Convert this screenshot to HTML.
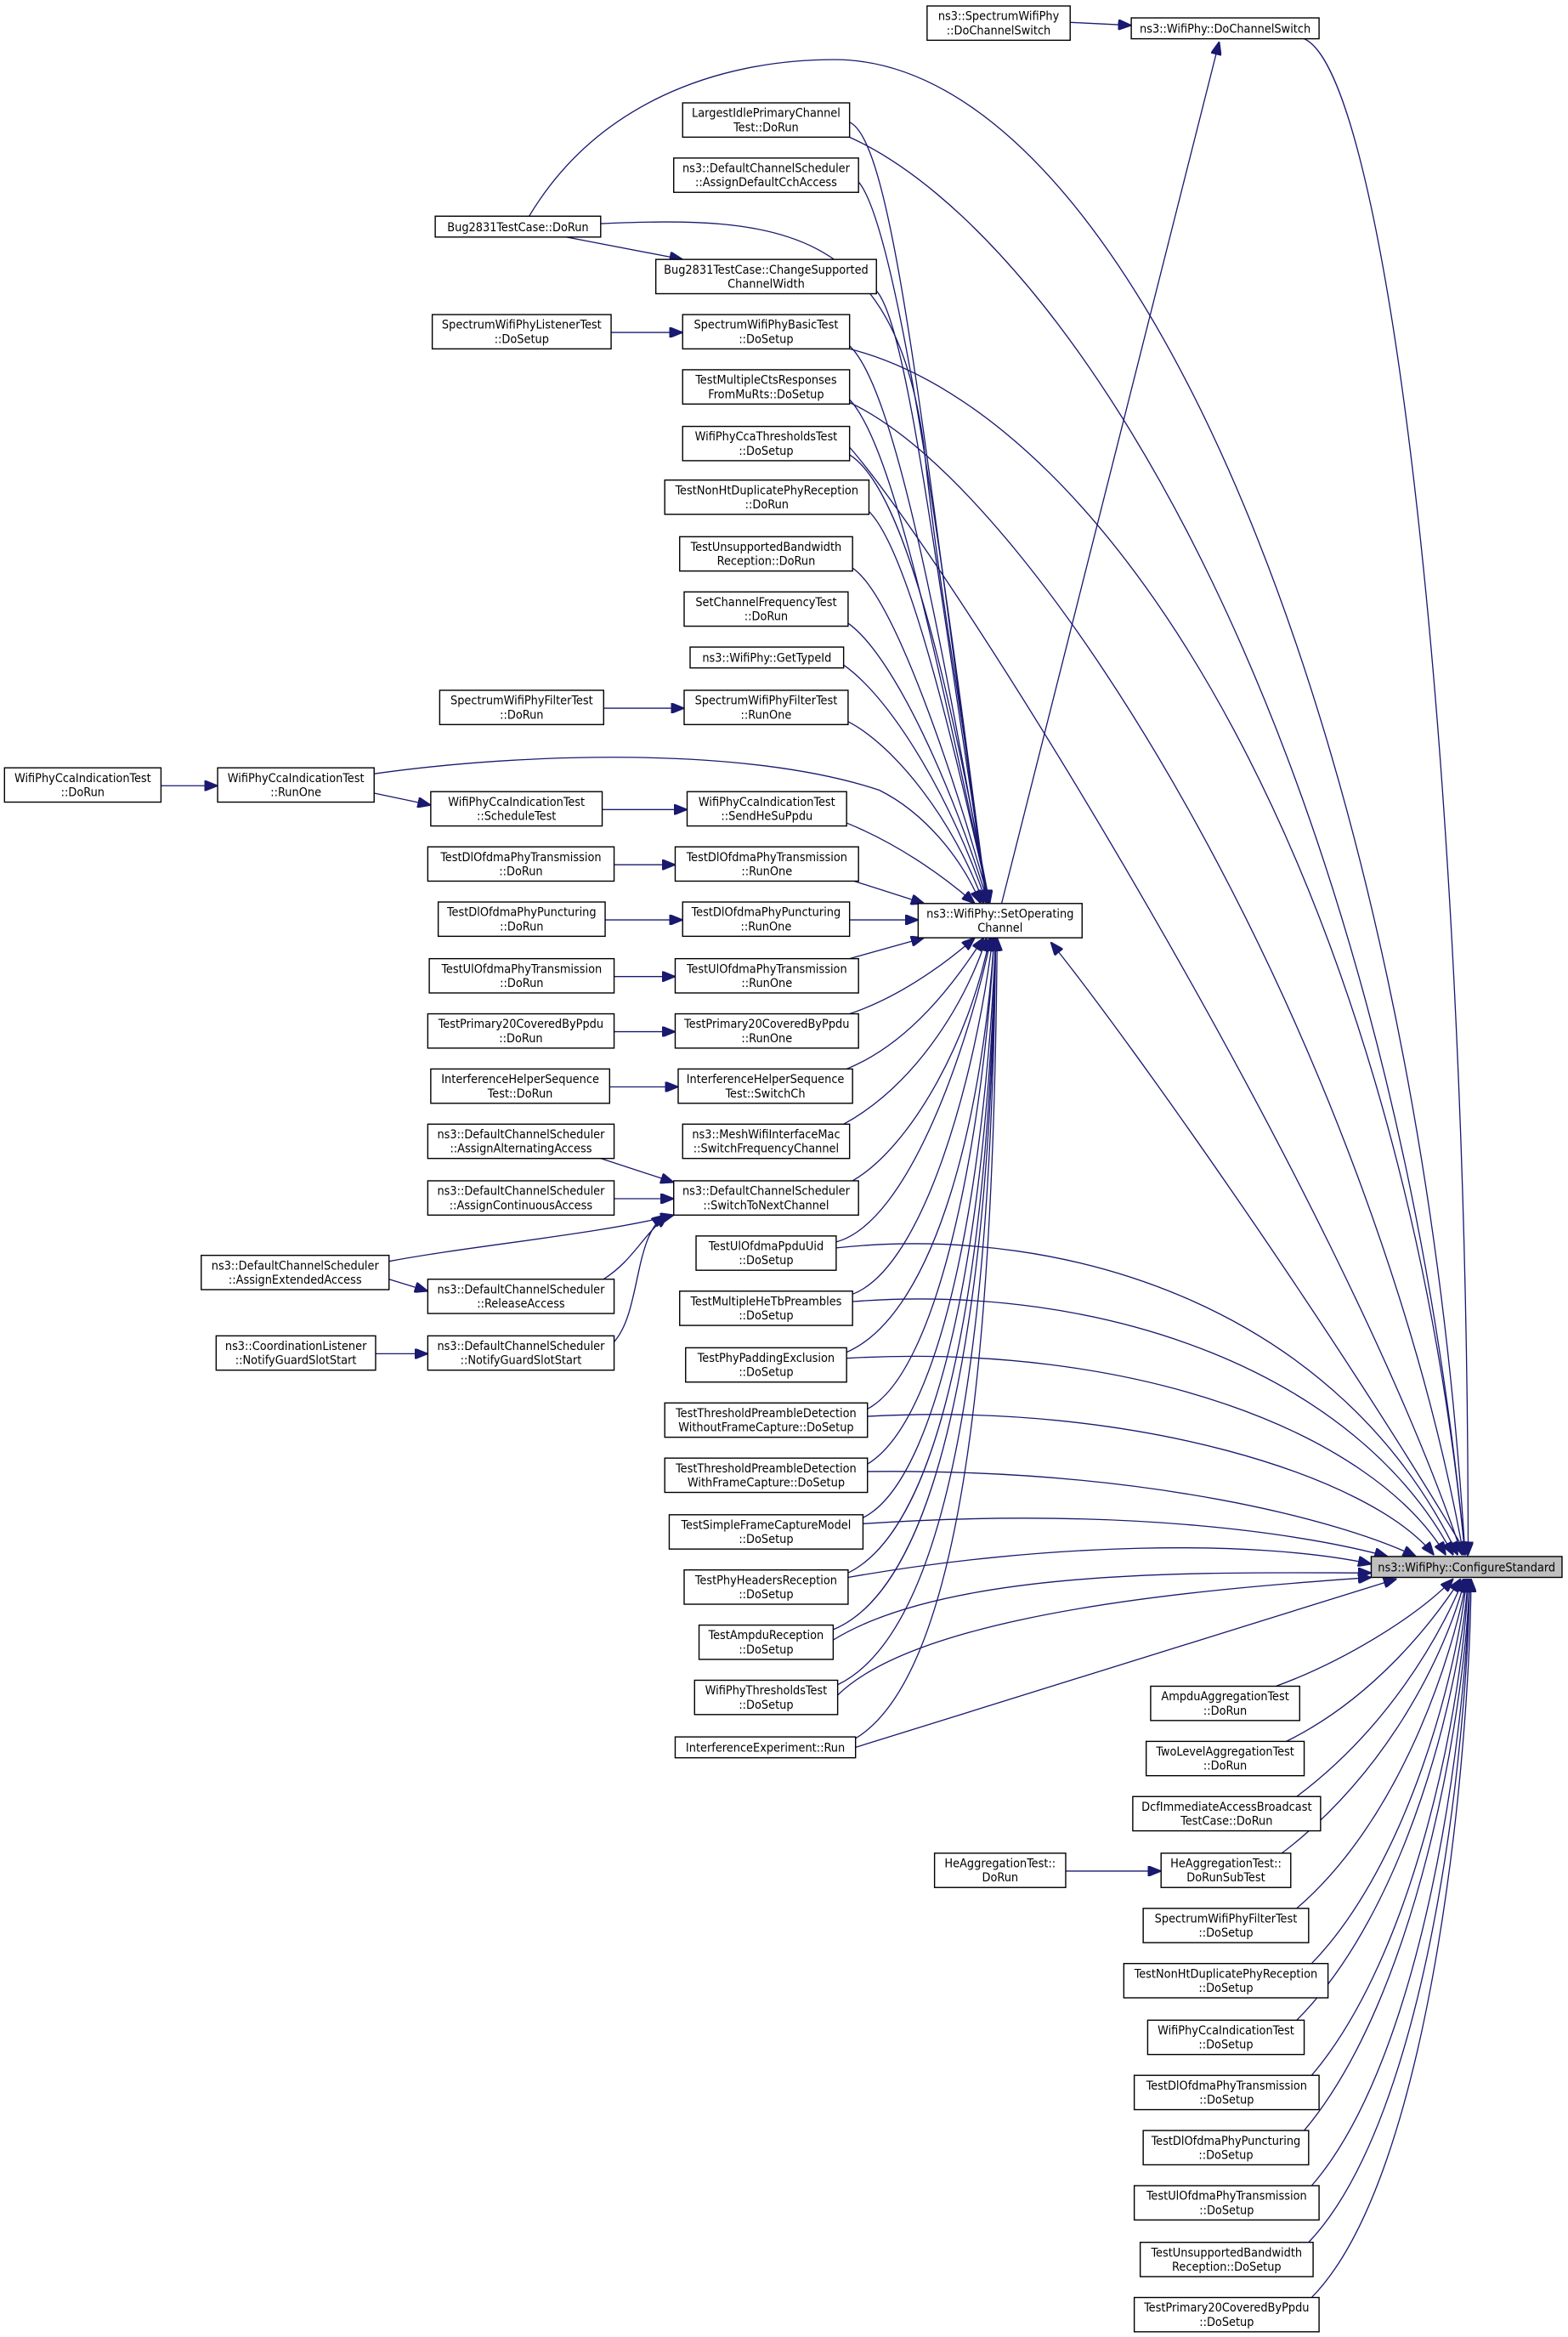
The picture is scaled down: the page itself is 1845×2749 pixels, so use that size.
<!DOCTYPE html>
<html><head><meta charset="utf-8"><style>
html,body{margin:0;padding:0;background:#fff;}
svg{display:block;}
text{font-family:"DejaVu Sans Condensed","DejaVu Sans","Liberation Sans",sans-serif;font-stretch:condensed;font-size:8.2px;fill:#000;text-anchor:middle;}
rect{fill:#fff;stroke:#000;stroke-width:0.8;}
path{fill:none;stroke:#191970;stroke-width:0.75;}
</style></head><body>
<svg width="1845" height="2749" viewBox="0 0 1052 1567.5" xmlns="http://www.w3.org/2000/svg">
<defs>
<marker id="a" viewBox="0 0 10 8" refX="10" refY="4" markerWidth="9" markerHeight="7" markerUnits="userSpaceOnUse" orient="auto">
<polygon points="0,0 10,4 0,8" fill="#191970" stroke="#191970"/></marker>
</defs>
<g>
<!-- edges to SetOperatingChannel -->
<path marker-end="url(#a)" d="M570,82 C600,95 620,300 662,606"/>
<path marker-end="url(#a)" d="M576,122 C600,150 630,350 662,606"/>
<path marker-end="url(#a)" d="M403,150 C520,145 600,150 620,300 C630,400 650,500 662,606"/>
<path marker-end="url(#a)" d="M588,195 C610,220 630,400 663,606"/>
<path marker-end="url(#a)" d="M570,232 C600,260 630,420 663,606"/>
<path marker-end="url(#a)" d="M570,268 C600,300 630,450 664,606"/>
<path marker-end="url(#a)" d="M570,305 C610,330 640,480 664,606"/>
<path marker-end="url(#a)" d="M583,343 C610,370 640,500 664,606"/>
<path marker-end="url(#a)" d="M572,381 C600,400 640,520 664,606"/>
<path marker-end="url(#a)" d="M569,418 C600,440 640,530 663,606"/>
<path marker-end="url(#a)" d="M566,446 C600,470 640,540 662,606"/>
<path marker-end="url(#a)" d="M569,484 C600,500 640,550 660,606"/>
<path marker-end="url(#a)" d="M251,519 C350,505 500,500 590,530 C620,545 645,575 658,606"/>
<path marker-end="url(#a)" d="M568,552 C600,565 630,585 654,606"/>
<path marker-end="url(#a)" d="M570,590 L620,606"/>
<path marker-end="url(#a)" d="M570,617 L616,617"/>
<path marker-end="url(#a)" d="M570,643 L620,629"/>
<path marker-end="url(#a)" d="M570,680 C600,670 630,650 654,629"/>
<path marker-end="url(#a)" d="M568,717 C610,700 640,660 660,629"/>
<path marker-end="url(#a)" d="M566,754 C610,730 645,680 662,629"/>
<path marker-end="url(#a)" d="M572,792 C610,770 650,700 664,629"/>
<path marker-end="url(#a)" d="M561,833 C610,820 650,700 665,629"/>
<path marker-end="url(#a)" d="M572,868 C620,850 655,720 666,629"/>
<path marker-end="url(#a)" d="M568,907 C630,880 660,740 667,629"/>
<path marker-end="url(#a)" d="M582,945 C630,920 660,760 667,629"/>
<path marker-end="url(#a)" d="M582,982 C635,950 662,780 668,629"/>
<path marker-end="url(#a)" d="M579,1018 C635,990 664,800 668,629"/>
<path marker-end="url(#a)" d="M569,1055 C640,1020 664,820 668,629"/>
<path marker-end="url(#a)" d="M559,1093 C640,1060 665,840 668,629"/>
<path marker-end="url(#a)" d="M562,1130 C645,1090 666,860 668,629"/>
<path marker-end="url(#a)" d="M574,1166 C650,1120 667,880 669,629"/>
<path marker-end="url(#a)" d="M985,1044 C900,900 760,700 705,632"/>
<path marker-end="url(#a)" d="M672,606 L818,28"/>
<!-- edges to ConfigureStandard -->
<path marker-end="url(#a)" d="M875,26 C930,50 985,500 985,1043"/>
<path marker-end="url(#a)" d="M355,145 C400,70 480,40 560,40 C760,40 950,500 983,1043"/>
<path marker-end="url(#a)" d="M570,92 C720,160 930,500 983,1043"/>
<path marker-end="url(#a)" d="M570,234 C750,280 940,600 983,1043"/>
<path marker-end="url(#a)" d="M570,270 C700,330 920,700 982,1043"/>
<path marker-end="url(#a)" d="M570,300 C640,380 900,800 981,1043"/>
<path marker-end="url(#a)" d="M561,837 C720,820 900,880 978,1043"/>
<path marker-end="url(#a)" d="M572,873 C740,860 910,920 975,1043"/>
<path marker-end="url(#a)" d="M568,911 C760,900 920,960 970,1043"/>
<path marker-end="url(#a)" d="M582,950 C760,940 920,990 962,1043"/>
<path marker-end="url(#a)" d="M582,987 C770,985 900,1020 950,1044"/>
<path marker-end="url(#a)" d="M579,1022 C760,1010 880,1030 931,1044"/>
<path marker-end="url(#a)" d="M569,1058 C700,1035 840,1032 920,1049"/>
<path marker-end="url(#a)" d="M559,1100 C640,1050 820,1055 920,1055"/>
<path marker-end="url(#a)" d="M562,1137 C620,1080 820,1065 920,1058"/>
<path marker-end="url(#a)" d="M574,1172 L937,1059"/>
<path marker-end="url(#a)" d="M856,1131 C900,1115 950,1085 975,1059"/>
<path marker-end="url(#a)" d="M863,1168 C920,1140 960,1090 980,1059"/>
<path marker-end="url(#a)" d="M870,1205 C930,1160 965,1100 982,1059"/>
<path marker-end="url(#a)" d="M860,1243 C930,1190 970,1110 983,1059"/>
<path marker-end="url(#a)" d="M870,1280 C940,1220 975,1110 984,1059"/>
<path marker-end="url(#a)" d="M880,1317 C945,1250 978,1120 984,1059"/>
<path marker-end="url(#a)" d="M870,1355 C945,1280 980,1130 985,1059"/>
<path marker-end="url(#a)" d="M880,1392 C950,1310 982,1140 985,1059"/>
<path marker-end="url(#a)" d="M875,1429 C950,1340 983,1150 986,1059"/>
<path marker-end="url(#a)" d="M880,1466 C955,1380 984,1160 986,1059"/>
<path marker-end="url(#a)" d="M878,1504 C958,1420 985,1170 986,1059"/>
<path marker-end="url(#a)" d="M880,1541 C960,1460 986,1180 987,1059"/>
<!-- local edges -->
<path marker-end="url(#a)" d="M718,15 L759,17"/>
<path marker-end="url(#a)" d="M380,159 L458,174"/>
<path marker-end="url(#a)" d="M410,223 L458,223"/>
<path marker-end="url(#a)" d="M405,475 L459,475"/>
<path marker-end="url(#a)" d="M108,527 L146,527"/>
<path marker-end="url(#a)" d="M251,532 L289,540"/>
<path marker-end="url(#a)" d="M404,543 L461,543"/>
<path marker-end="url(#a)" d="M412,580 L453,580"/>
<path marker-end="url(#a)" d="M406,617 L458,617"/>
<path marker-end="url(#a)" d="M412,655 L453,655"/>
<path marker-end="url(#a)" d="M412,692 L453,692"/>
<path marker-end="url(#a)" d="M409,729 L455,729"/>
<path marker-end="url(#a)" d="M403,777 L452,793"/>
<path marker-end="url(#a)" d="M412,804 L452,804"/>
<path marker-end="url(#a)" d="M261,846 C320,835 400,828 452,815"/>
<path marker-end="url(#a)" d="M261,858 L287,866"/>
<path marker-end="url(#a)" d="M405,858 C425,845 430,830 448,815"/>
<path marker-end="url(#a)" d="M412,900 C430,880 425,830 446,815"/>
<path marker-end="url(#a)" d="M252,908 L287,908"/>
<path marker-end="url(#a)" d="M715,1255 L779,1255"/>
</g>
<g>
<rect x="622" y="4" width="96" height="23"/><text x="670" y="13.5">ns3::SpectrumWifiPhy</text><text x="670" y="23">::DoChannelSwitch</text>
<rect x="759" y="12" width="126" height="14"/><text x="822" y="22">ns3::WifiPhy::DoChannelSwitch</text>
<rect x="458" y="69" width="112" height="23"/><text x="514" y="78.5">LargestIdlePrimaryChannel</text><text x="514" y="88">Test::DoRun</text>
<rect x="452" y="106" width="124" height="23"/><text x="514" y="115.5">ns3::DefaultChannelScheduler</text><text x="514" y="125">::AssignDefaultCchAccess</text>
<rect x="292" y="145" width="111" height="14"/><text x="347.5" y="155">Bug2831TestCase::DoRun</text>
<rect x="440" y="174" width="148" height="23"/><text x="514" y="183.5">Bug2831TestCase::ChangeSupported</text><text x="514" y="193">ChannelWidth</text>
<rect x="290" y="211" width="120" height="23"/><text x="350" y="220.5">SpectrumWifiPhyListenerTest</text><text x="350" y="230">::DoSetup</text>
<rect x="458" y="211" width="112" height="23"/><text x="514" y="220.5">SpectrumWifiPhyBasicTest</text><text x="514" y="230">::DoSetup</text>
<rect x="458" y="248" width="112" height="23"/><text x="514" y="257.5">TestMultipleCtsResponses</text><text x="514" y="267">FromMuRts::DoSetup</text>
<rect x="458" y="286" width="112" height="23"/><text x="514" y="295.5">WifiPhyCcaThresholdsTest</text><text x="514" y="305">::DoSetup</text>
<rect x="446" y="322" width="137" height="23"/><text x="514.5" y="331.5">TestNonHtDuplicatePhyReception</text><text x="514.5" y="341">::DoRun</text>
<rect x="456" y="360" width="116" height="23"/><text x="514" y="369.5">TestUnsupportedBandwidth</text><text x="514" y="379">Reception::DoRun</text>
<rect x="459" y="397" width="110" height="23"/><text x="514" y="406.5">SetChannelFrequencyTest</text><text x="514" y="416">::DoRun</text>
<rect x="463" y="434" width="103" height="14"/><text x="514.5" y="444">ns3::WifiPhy::GetTypeId</text>
<rect x="295" y="463" width="110" height="23"/><text x="350" y="472.5">SpectrumWifiPhyFilterTest</text><text x="350" y="482">::DoRun</text>
<rect x="459" y="463" width="110" height="23"/><text x="514" y="472.5">SpectrumWifiPhyFilterTest</text><text x="514" y="482">::RunOne</text>
<rect x="3" y="515" width="105" height="23"/><text x="55.5" y="524.5">WifiPhyCcaIndicationTest</text><text x="55.5" y="534">::DoRun</text>
<rect x="146" y="515" width="105" height="23"/><text x="198.5" y="524.5">WifiPhyCcaIndicationTest</text><text x="198.5" y="534">::RunOne</text>
<rect x="289" y="531" width="115" height="23"/><text x="346.5" y="540.5">WifiPhyCcaIndicationTest</text><text x="346.5" y="550">::ScheduleTest</text>
<rect x="461" y="531" width="107" height="23"/><text x="514.5" y="540.5">WifiPhyCcaIndicationTest</text><text x="514.5" y="550">::SendHeSuPpdu</text>
<rect x="287" y="568" width="125" height="23"/><text x="349.5" y="577.5">TestDlOfdmaPhyTransmission</text><text x="349.5" y="587">::DoRun</text>
<rect x="453" y="568" width="123" height="23"/><text x="514.5" y="577.5">TestDlOfdmaPhyTransmission</text><text x="514.5" y="587">::RunOne</text>
<rect x="294" y="605" width="112" height="23"/><text x="350" y="614.5">TestDlOfdmaPhyPuncturing</text><text x="350" y="624">::DoRun</text>
<rect x="458" y="605" width="112" height="23"/><text x="514" y="614.5">TestDlOfdmaPhyPuncturing</text><text x="514" y="624">::RunOne</text>
<rect x="616" y="606" width="110" height="23"/><text x="671" y="615.5">ns3::WifiPhy::SetOperating</text><text x="671" y="625">Channel</text>
<rect x="288" y="643" width="124" height="23"/><text x="350" y="652.5">TestUlOfdmaPhyTransmission</text><text x="350" y="662">::DoRun</text>
<rect x="453" y="643" width="123" height="23"/><text x="514.5" y="652.5">TestUlOfdmaPhyTransmission</text><text x="514.5" y="662">::RunOne</text>
<rect x="287" y="680" width="125" height="23"/><text x="349.5" y="689.5">TestPrimary20CoveredByPpdu</text><text x="349.5" y="699">::DoRun</text>
<rect x="453" y="680" width="123" height="23"/><text x="514.5" y="689.5">TestPrimary20CoveredByPpdu</text><text x="514.5" y="699">::RunOne</text>
<rect x="289" y="717" width="120" height="23"/><text x="349" y="726.5">InterferenceHelperSequence</text><text x="349" y="736">Test::DoRun</text>
<rect x="455" y="717" width="117" height="23"/><text x="513.5" y="726.5">InterferenceHelperSequence</text><text x="513.5" y="736">Test::SwitchCh</text>
<rect x="287" y="754" width="125" height="23"/><text x="349.5" y="763.5">ns3::DefaultChannelScheduler</text><text x="349.5" y="773">::AssignAlternatingAccess</text>
<rect x="458" y="754" width="112" height="23"/><text x="514" y="763.5">ns3::MeshWifiInterfaceMac</text><text x="514" y="773">::SwitchFrequencyChannel</text>
<rect x="287" y="792" width="125" height="23"/><text x="349.5" y="801.5">ns3::DefaultChannelScheduler</text><text x="349.5" y="811">::AssignContinuousAccess</text>
<rect x="452" y="792" width="124" height="23"/><text x="514" y="801.5">ns3::DefaultChannelScheduler</text><text x="514" y="811">::SwitchToNextChannel</text>
<rect x="467" y="829" width="94" height="23"/><text x="514" y="838.5">TestUlOfdmaPpduUid</text><text x="514" y="848">::DoSetup</text>
<rect x="135" y="842" width="126" height="23"/><text x="198" y="851.5">ns3::DefaultChannelScheduler</text><text x="198" y="861">::AssignExtendedAccess</text>
<rect x="287" y="858" width="125" height="23"/><text x="349.5" y="867.5">ns3::DefaultChannelScheduler</text><text x="349.5" y="877">::ReleaseAccess</text>
<rect x="456" y="866" width="116" height="23"/><text x="514" y="875.5">TestMultipleHeTbPreambles</text><text x="514" y="885">::DoSetup</text>
<rect x="145" y="896" width="107" height="23"/><text x="198.5" y="905.5">ns3::CoordinationListener</text><text x="198.5" y="915">::NotifyGuardSlotStart</text>
<rect x="287" y="896" width="125" height="23"/><text x="349.5" y="905.5">ns3::DefaultChannelScheduler</text><text x="349.5" y="915">::NotifyGuardSlotStart</text>
<rect x="460" y="904" width="108" height="23"/><text x="514" y="913.5">TestPhyPaddingExclusion</text><text x="514" y="923">::DoSetup</text>
<rect x="446" y="941" width="136" height="23"/><text x="514" y="950.5">TestThresholdPreambleDetection</text><text x="514" y="960">WithoutFrameCapture::DoSetup</text>
<rect x="446" y="978" width="136" height="23"/><text x="514" y="987.5">TestThresholdPreambleDetection</text><text x="514" y="997">WithFrameCapture::DoSetup</text>
<rect x="449" y="1016" width="130" height="23"/><text x="514" y="1025.5">TestSimpleFrameCaptureModel</text><text x="514" y="1035">::DoSetup</text>
<rect x="459" y="1053" width="110" height="23"/><text x="514" y="1062.5">TestPhyHeadersReception</text><text x="514" y="1072">::DoSetup</text>
<rect x="469" y="1090" width="90" height="23"/><text x="514" y="1099.5">TestAmpduReception</text><text x="514" y="1109">::DoSetup</text>
<rect x="466" y="1127" width="96" height="23"/><text x="514" y="1136.5">WifiPhyThresholdsTest</text><text x="514" y="1146">::DoSetup</text>
<rect x="453" y="1165" width="121" height="14"/><text x="513.5" y="1175">InterferenceExperiment::Run</text>
<rect x="920" y="1044" width="128" height="14" style="fill:#bfbfbf"/><text x="984" y="1054">ns3::WifiPhy::ConfigureStandard</text>
<rect x="772" y="1131" width="100" height="23"/><text x="822" y="1140.5">AmpduAggregationTest</text><text x="822" y="1150">::DoRun</text>
<rect x="769" y="1168" width="106" height="23"/><text x="822" y="1177.5">TwoLevelAggregationTest</text><text x="822" y="1187">::DoRun</text>
<rect x="760" y="1205" width="126" height="23"/><text x="823" y="1214.5">DcfImmediateAccessBroadcast</text><text x="823" y="1224">TestCase::DoRun</text>
<rect x="627" y="1243" width="88" height="23"/><text x="671" y="1252.5">HeAggregationTest::</text><text x="671" y="1262">DoRun</text>
<rect x="779" y="1243" width="87" height="23"/><text x="822.5" y="1252.5">HeAggregationTest::</text><text x="822.5" y="1262">DoRunSubTest</text>
<rect x="767" y="1280" width="111" height="23"/><text x="822.5" y="1289.5">SpectrumWifiPhyFilterTest</text><text x="822.5" y="1299">::DoSetup</text>
<rect x="754" y="1317" width="137" height="23"/><text x="822.5" y="1326.5">TestNonHtDuplicatePhyReception</text><text x="822.5" y="1336">::DoSetup</text>
<rect x="770" y="1355" width="105" height="23"/><text x="822.5" y="1364.5">WifiPhyCcaIndicationTest</text><text x="822.5" y="1374">::DoSetup</text>
<rect x="761" y="1392" width="124" height="23"/><text x="823" y="1401.5">TestDlOfdmaPhyTransmission</text><text x="823" y="1411">::DoSetup</text>
<rect x="767" y="1429" width="111" height="23"/><text x="822.5" y="1438.5">TestDlOfdmaPhyPuncturing</text><text x="822.5" y="1448">::DoSetup</text>
<rect x="761" y="1466" width="124" height="23"/><text x="823" y="1475.5">TestUlOfdmaPhyTransmission</text><text x="823" y="1485">::DoSetup</text>
<rect x="765" y="1504" width="116" height="23"/><text x="823" y="1513.5">TestUnsupportedBandwidth</text><text x="823" y="1523">Reception::DoSetup</text>
<rect x="761" y="1541" width="124" height="23"/><text x="823" y="1550.5">TestPrimary20CoveredByPpdu</text><text x="823" y="1560">::DoSetup</text>
</g>
</svg>
</body></html>
